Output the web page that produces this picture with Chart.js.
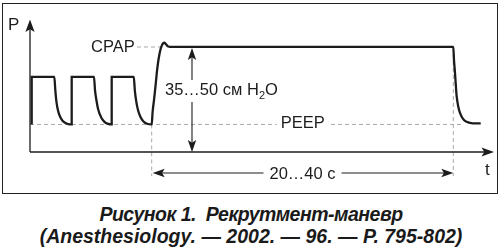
<!DOCTYPE html>
<html>
<head>
<meta charset="utf-8">
<script src="https://cdn.jsdelivr.net/npm/chart.js@4.4.1/dist/chart.umd.min.js"></script>
<style>
  body { margin: 0; background: #fff; width: 502px; height: 251px; overflow: hidden; position: relative;
         font-family: "Liberation Sans", Arial, sans-serif; }
  #frame { position: absolute; left: 2px; top: 2.5px; width: 494px; height: 189px; border: 1.5px solid #222; }
  #wrap { position: absolute; left: 0; top: 0; width: 502px; height: 200px; }
  #caption { position: absolute; left: 0; top: 204.2px; width: 502px; text-align: center; white-space: pre;
             font-weight: bold; font-style: italic; font-size: 19.5px; line-height: 21.6px; color: #1a1a1a; }
  #caption .l1 { letter-spacing: -0.5px; }
</style>
</head>
<body>
<div id="frame"></div>
<div id="wrap"><canvas id="mainChart" width="502" height="200"></canvas></div>
<div id="caption"><span class="l1">Рисунок 1.  Рекрутмент-маневр</span>
(Anesthesiology. — 2002. — 96. — P. 795-802)</div>
<script>
// время, с (схема) и давление, см H2O
const timeSec = [
  0.17, 0.17, 2.43, 2.53, 2.65, 2.8, 3.0, 3.25, 3.55, 3.9, 4.17,
  4.17, 6.4, 6.5, 6.64, 6.82, 7.15, 7.45, 7.75, 8.17,
  8.17, 10.38, 10.48, 10.62, 10.8, 11.05, 11.35, 11.7, 12.17,
  12.26, 12.4, 12.55, 12.68, 12.8, 12.93, 13.05, 13.17, 13.3, 13.43, 13.57, 13.73, 13.95, 14.2,
  42.33, 42.4, 42.5, 42.6, 42.67, 42.83, 43.0, 43.17, 43.4, 43.67, 44.0, 44.3, 45.07
];
const pressure = [
  10.5, 28.6, 28.6, 23.6, 19.0, 15.8, 13.5, 11.9, 11.0, 10.55, 10.5,
  28.6, 28.6, 23.6, 19.8, 16.2, 12.95, 11.5, 10.8, 10.5,
  28.6, 28.6, 23.6, 19.4, 16.0, 13.3, 11.6, 10.75, 10.5,
  15.24, 19.8, 25.1, 30.1, 33.9, 36.95, 39.05, 40.4, 41.3, 41.6, 41.2, 40.45, 40.08, 40,
  40, 35.0, 30.1, 24.4, 21.07, 17.26, 14.86, 13.45, 12.19, 11.5, 11.05, 10.93, 10.93
];
const peepLevel = 10.5;
const cpapLevel = 40;
const manStart = 12.17;   // начало маневра
const manEnd = 42.33;     // конец маневра
const axisLabels = ['P', 't'];
const levelLabels = ['CPAP', 'PEEP'];
const pressureLabel = ['35…50 см H', '2', 'O'];
const durationLabel = '20…40 с';

const FONT = '"Liberation Sans", Arial, sans-serif';
const INK = '#1c1c1c';

function seg(ctx, x1, y1, x2, y2) {
  ctx.beginPath();
  ctx.moveTo(x1, y1);
  ctx.lineTo(x2, y2);
  ctx.stroke();
}

// наконечник стрелки, dx/dy - направление к острию
function head(ctx, tx, ty, dx, dy, len, hw) {
  const bx = tx - dx * len, by = ty - dy * len;
  const nx = -dy, ny = dx;
  ctx.beginPath();
  ctx.moveTo(tx, ty);
  ctx.lineTo(bx + nx * hw, by + ny * hw);
  ctx.lineTo(tx - dx * len * 0.78, ty - dy * len * 0.78);
  ctx.lineTo(bx - nx * hw, by - ny * hw);
  ctx.closePath();
  ctx.fill();
}

const schemePlugin = {
  id: 'scheme',
  beforeDatasetsDraw(chart) {
    const { ctx, scales: { x, y } } = chart;
    const yPeep = y.getPixelForValue(peepLevel);
    const yCpap = y.getPixelForValue(cpapLevel);
    const yLow = y.getPixelForValue(0) + 24;
    ctx.save();
    ctx.strokeStyle = '#a9a9a9';
    ctx.lineWidth = 1;
    ctx.setLineDash([4, 3]);
    seg(ctx, x.getPixelForValue(0), yPeep, x.getPixelForValue(43.3), yPeep);
    seg(ctx, x.getPixelForValue(10.7), yCpap, x.getPixelForValue(13.4), yCpap);
    seg(ctx, x.getPixelForValue(manStart), yPeep, x.getPixelForValue(manStart), yLow);
    seg(ctx, x.getPixelForValue(manEnd), yCpap, x.getPixelForValue(manEnd), yLow);
    ctx.restore();
  },
  afterDatasetsDraw(chart) {
    const { ctx, chartArea, scales: { x, y } } = chart;
    const x0 = x.getPixelForValue(0), y0 = y.getPixelForValue(0);
    ctx.save();
    ctx.strokeStyle = INK;
    ctx.fillStyle = INK;

    // оси
    ctx.lineWidth = 1.3;
    seg(ctx, x0, y0, chartArea.right - 6, y0);
    seg(ctx, x0, y0, x0, chartArea.top + 6);
    head(ctx, chartArea.right, y0, 1, 0, 12.5, 4.6);
    head(ctx, x0, chartArea.top, 0, -1, 12.5, 4.6);

    // вертикальная двойная стрелка
    const xa = x.getPixelForValue(16.2);
    const yc = y.getPixelForValue(cpapLevel);
    ctx.lineWidth = 1.1;
    seg(ctx, xa, yc + 8, xa, y0 - 8);
    head(ctx, xa, yc + 1, 0, -1, 12, 4.2);
    head(ctx, xa, y0, 0, 1, 12, 4.2);

    // горизонтальная двойная стрелка
    const ya = y0 + 21;
    const xs = x.getPixelForValue(manStart) + 1, xe = x.getPixelForValue(manEnd);
    seg(ctx, xs + 8, ya, xe - 8, ya);
    head(ctx, xs, ya, -1, 0, 12, 4.2);
    head(ctx, xe, ya, 1, 0, 12, 4.2);

    ctx.textBaseline = 'middle';
    ctx.textAlign = 'left';

    // подписи с белой подложкой
    function label(text, left, mid) {
      const w = ctx.measureText(text).width;
      ctx.fillStyle = '#fff';
      ctx.fillRect(left - 4, mid - 8, w + 8, 16);
      ctx.fillStyle = INK;
      ctx.fillText(text, left, mid);
      return w;
    }

    ctx.font = '17px ' + FONT;
    ctx.fillText(axisLabels[0], 8, 25.5);
    ctx.fillText(axisLabels[1], 485, 170);
    ctx.font = '16.5px ' + FONT;

    ctx.fillText(levelLabels[0], x.getPixelForValue(6.1), y.getPixelForValue(cpapLevel) + 0.5);
    label(levelLabels[1], x.getPixelForValue(25.07), y.getPixelForValue(peepLevel) - 0.5);

    // 35…50 см H2O
    const tl = x.getPixelForValue(13.5), tm = y.getPixelForValue(23.6);
    const w1 = ctx.measureText(pressureLabel[0]).width;
    ctx.font = '11px ' + FONT;
    const w2 = ctx.measureText(pressureLabel[1]).width;
    ctx.font = '16.5px ' + FONT;
    const w3 = ctx.measureText(pressureLabel[2]).width;
    ctx.fillStyle = '#fff';
    ctx.fillRect(tl - 3, tm - 10, w1 + w2 + w3 + 6, 22);
    ctx.fillStyle = INK;
    ctx.fillText(pressureLabel[0], tl, tm);
    ctx.font = '11px ' + FONT;
    ctx.fillText(pressureLabel[1], tl + w1, tm + 6);
    ctx.font = '16.5px ' + FONT;
    ctx.fillText(pressureLabel[2], tl + w1 + w2, tm);

    // 20…40 с
    const wd = ctx.measureText(durationLabel).width;
    const cx = (x.getPixelForValue(manStart) + x.getPixelForValue(manEnd)) / 2;
    ctx.fillStyle = '#fff';
    ctx.fillRect(cx - wd / 2 - 6, ya - 9, wd + 12, 18);
    ctx.fillStyle = INK;
    ctx.fillText(durationLabel, cx - wd / 2, ya + 1);

    ctx.restore();
  }
};

const ctx = document.getElementById('mainChart').getContext('2d');
new Chart(ctx, {
  type: 'line',
  data: {
    datasets: [{
      data: timeSec.map((t, i) => ({ x: t, y: pressure[i] })),
      borderColor: INK,
      borderWidth: 2.3,
      pointRadius: 0,
      cubicInterpolationMode: 'monotone',
      borderJoinStyle: 'miter',
      fill: false
    }]
  },
  options: {
    responsive: false,
    animation: false,
    events: [],
    layout: { padding: { left: 30, right: 8, top: 19.4, bottom: 48 } },
    plugins: { legend: { display: false }, tooltip: { enabled: false } },
    scales: {
      x: { type: 'linear', min: 0, max: 46.4, display: false },
      y: { type: 'linear', min: 0, max: 50.5, display: false }
    }
  },
  plugins: [schemePlugin]
});
</script>
</body>
</html>
